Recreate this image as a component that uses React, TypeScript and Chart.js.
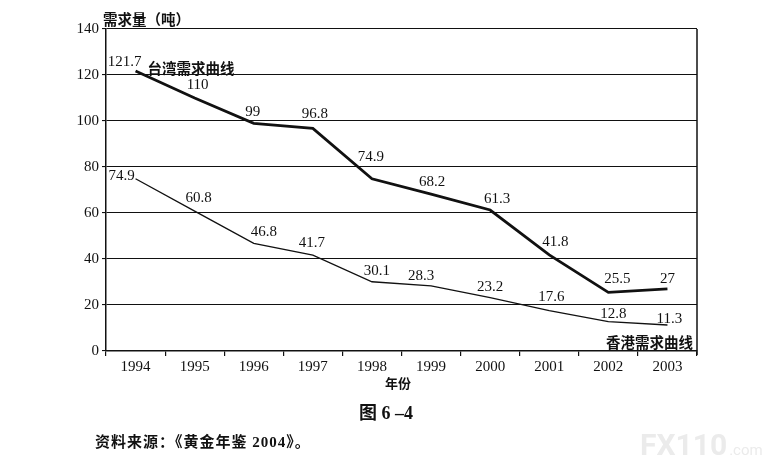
import { useEffect, useRef } from 'react';
import Chart from 'chart.js/auto';

const years = ['1994', '1995', '1996', '1997', '1998', '1999', '2000', '2001', '2002', '2003'];
const taiwanDemand = [121.7, 110, 99, 96.8, 74.9, 68.2, 61.3, 41.8, 25.5, 27];
const hongKongDemand = [74.9, 60.8, 46.8, 41.7, 30.1, 28.3, 23.2, 17.6, 12.8, 11.3];
const yTicks = [0, 20, 40, 60, 80, 100, 120, 140];

// label nudges (dx, dy from the point), per series
const taiwanLabelShift = [[-11, -9], [3, -13], [-1, -11], [2, -14], [-1, -22], [1, -12], [7, -11], [6, -13], [9, -13], [0, -10]];
const hongKongLabelShift = [[-14, -3], [4, -13], [10, -11], [-1, -12], [5, -11], [-10, -10], [0, -11], [2, -13], [5, -7], [2, -6]];

const INK = '#111';
const SERIF = "'Liberation Serif', 'Noto Sans CJK SC', serif";
const CJK = "'Noto Sans CJK SC', sans-serif";

const annotations = {
  id: 'annotations',
  afterDatasetsDraw(chart: any) {
    const ctx = chart.ctx as CanvasRenderingContext2D;
    const area = chart.chartArea;
    ctx.save();

    // right frame line
    ctx.strokeStyle = INK;
    ctx.lineWidth = 1.5;
    ctx.beginPath();
    ctx.moveTo(area.right, area.top);
    ctx.lineTo(area.right, area.bottom + 4);
    ctx.stroke();

    // value labels
    ctx.fillStyle = INK;
    ctx.textAlign = 'center';
    ctx.textBaseline = 'middle';
    ctx.font = `15px ${SERIF}`;
    const shifts = [taiwanLabelShift, hongKongLabelShift];
    chart.data.datasets.forEach((ds: any, di: number) => {
      const meta = chart.getDatasetMeta(di);
      meta.data.forEach((pt: any, i: number) => {
        const [dx, dy] = shifts[di][i];
        ctx.fillText(String(ds.data[i]), pt.x + dx, pt.y + dy);
      });
    });

    // series names
    const tw0 = chart.getDatasetMeta(0).data[0];
    ctx.font = `bold 14.5px ${CJK}`;
    ctx.textAlign = 'left';
    ctx.fillText('台湾需求曲线', tw0.x + 12, tw0.y - 3);
    ctx.textAlign = 'right';
    ctx.fillText('香港需求曲线', area.right - 4, area.bottom - 9);

    // axis titles
    ctx.font = `bold 14.5px ${CJK}`;
    ctx.textAlign = 'left';
    ctx.fillText('需求量（吨）', area.left - 3, area.top - 10);
    ctx.font = `bold 13px ${CJK}`;
    ctx.textAlign = 'center';
    ctx.fillText('年份', 398, area.bottom + 32);

    // figure caption and source
    ctx.font = `bold 18px ${SERIF}`;
    ctx.fillText('图 6 –4', 386, 414);
    ctx.font = `bold 15px ${SERIF}`;
    ctx.textAlign = 'left';
    (ctx as any).letterSpacing = '1px';
    ctx.fillText('资料来源：《黄金年鉴 2004》。', 95, 443);
    (ctx as any).letterSpacing = '0px';

    // watermark
    ctx.fillStyle = '#ebebeb';
    ctx.textBaseline = 'alphabetic';
    ctx.font = "bold 30px 'Roboto', sans-serif";
    ctx.fillText('FX110', 640, 455);
    const w = ctx.measureText('FX110').width;
    ctx.font = "15px 'Roboto', sans-serif";
    ctx.fillText('.com', 640 + w + 2, 455);

    ctx.restore();
  }
};

const App: React.FC = () => {
  const canvasRef = useRef<HTMLCanvasElement>(null);
  const chartRef = useRef<Chart | null>(null);

  useEffect(() => {
    if (chartRef.current) {
      chartRef.current.destroy();
      chartRef.current = null;
    }
    if (!canvasRef.current) return;

    chartRef.current = new Chart(canvasRef.current, {
      type: 'line',
      data: {
        labels: years,
        datasets: [
          {
            label: '台湾需求曲线',
            data: taiwanDemand,
            borderColor: INK,
            borderWidth: 2.8,
            pointRadius: 0,
            tension: 0,
            fill: false
          },
          {
            label: '香港需求曲线',
            data: hongKongDemand,
            borderColor: INK,
            borderWidth: 1.3,
            pointRadius: 0,
            tension: 0,
            fill: false
          }
        ]
      },
      options: {
        responsive: false,
        animation: false,
        layout: { padding: { left: 56, right: 75, top: 29, bottom: 77 } },
        plugins: {
          legend: { display: false },
          tooltip: { enabled: false }
        },
        scales: {
          x: {
            offset: true,
            grid: { offset: true, drawOnChartArea: false, color: INK, tickLength: 5, lineWidth: 1.2 },
            border: { display: true, color: INK, width: 1.5 },
            ticks: { color: INK, font: { family: SERIF, size: 15 }, padding: 2, maxRotation: 0 },
            afterFit: (scale: any) => { scale.height = 40; }
          },
          y: {
            min: yTicks[0],
            max: yTicks[yTicks.length - 1],
            afterBuildTicks: (scale: any) => { scale.ticks = yTicks.map(v => ({ value: v })); },
            grid: { color: INK, lineWidth: 1.1, tickLength: 4 },
            border: { display: true, color: INK, width: 1.5 },
            ticks: { color: INK, font: { family: SERIF, size: 15 }, padding: 3 },
            afterFit: (scale: any) => { scale.width = 50; }
          }
        }
      },
      plugins: [annotations]
    });

    return () => {
      if (chartRef.current) {
        chartRef.current.destroy();
        chartRef.current = null;
      }
    };
  }, []);

  return (
    <div style={{ position: 'absolute', left: 0, top: 0, width: 772, height: 468, background: '#fff' }}>
      <canvas ref={canvasRef} width={772} height={468} style={{ width: 772, height: 468 }} />
    </div>
  );
};

export default App;
